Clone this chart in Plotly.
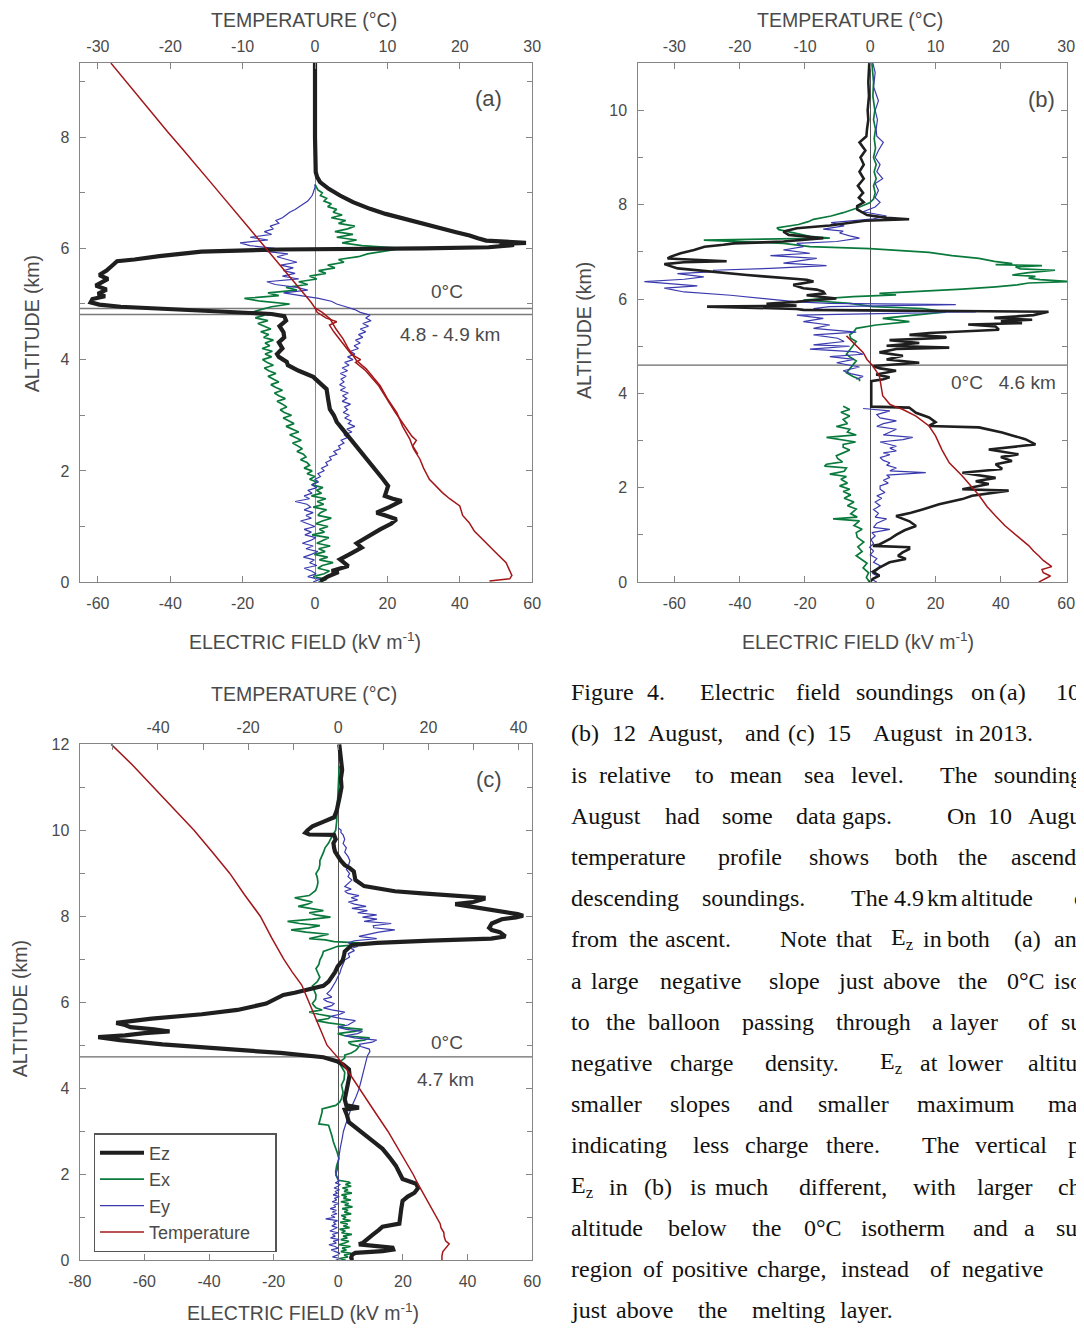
import plotly.graph_objects as go

# ---------------- DATA (altitude km, value) ----------------
# Panel (a) 10 August
a_ez = [(0.02, 1.4), (0.10, 3.5), (0.18, 6.5), (0.20, 4.6), (0.29, 9.2), (0.41, 6.9), (0.50, 9.5), (0.62, 12.9),
        (0.70, 11.5), (0.83, 14.7), (0.95, 18.0), (1.05, 21.0), (1.13, 22.5), (1.20, 19.5), (1.25, 17.0), (1.35, 20.5),
        (1.46, 23.9), (1.50, 21.5), (1.55, 19.3), (1.65, 19.8), (1.73, 20.2), (1.85, 18.8), (2.00, 17.0), (2.15, 15.2),
        (2.30, 13.2), (2.45, 11.5), (2.63, 9.1), (2.75, 7.6), (2.88, 6.0), (3.00, 5.2), (3.11, 4.1), (3.30, 3.6),
        (3.47, 3.2), (3.60, 1.0), (3.69, -0.5), (3.80, -4.5), (3.90, -7.5), (3.96, -7.8), (4.05, -10.0), (4.10, -10.5),
        (4.20, -9.0), (4.31, -10.0), (4.40, -8.5), (4.49, -8.7), (4.60, -9.8), (4.70, -8.0), (4.78, -8.5), (4.82, -12.0),
        (4.84, -18.0), (4.88, -27.5), (4.92, -42.0), (4.95, -53.7), (4.99, -59.6), (5.03, -62.0), (5.09, -61.5),
        (5.14, -58.0), (5.18, -60.0), (5.26, -57.6), (5.33, -60.6), (5.45, -57.2), (5.52, -59.6), (5.60, -57.6),
        (5.71, -55.7), (5.77, -54.7), (5.80, -49.9), (5.86, -43.0), (5.94, -31.4), (5.98, -10.0), (6.00, 30.0),
        (6.02, 48.0), (6.06, 55.0), (6.08, 51.0), (6.10, 58.3), (6.12, 52.0), (6.14, 47.3), (6.18, 45.0),
        (6.23, 42.7), (6.29, 39.0), (6.35, 35.3), (6.44, 30.0), (6.53, 25.0), (6.62, 19.5), (6.71, 15.2),
        (6.83, 10.5), (6.95, 6.9), (7.07, 3.8), (7.19, 1.4), (7.28, 0.6), (7.37, 0.2), (7.60, 0.05), (8.00, 0.0),
        (9.33, 0.0)]

# Ex / Ey of (a) read every 0.05 km from the ground upward
a_ex_vals = [1.0, 3.2, -0.5, 2.5, 4.0, 0.8, 2.0, 5.0, 1.2, 3.5,
             -0.2, 2.8, 1.0, 4.2, 0.5, 2.2, 3.8, -0.8, 2.6, 1.2,
             3.6, 0.2, 2.0, 4.5, 0.8, 1.5, 3.2, -0.5, 2.4, 0.6,
             3.0, -1.0, 1.8, 0.4, 2.2, -0.8, 0.5, -1.5, 0.0, -2.2,
             -0.8, -3.0, -1.5, -2.2, -4.0, -2.5, -3.2, -5.0, -3.5, -4.8,
             -6.2, -3.8, -5.5, -7.0, -4.5, -6.5, -8.0, -5.8, -7.2, -8.8,
             -6.5, -8.5, -9.6, -7.8, -9.0, -10.5, -8.2, -10.0, -11.2, -9.0,
             -10.8, -12.2, -10.0, -11.5, -13.0, -10.8, -12.8, -14.0, -11.5, -13.2,
             -14.5, -12.0, -13.8, -11.8, -14.6, -12.5, -13.8, -11.5, -14.2, -12.8,
             -15.0, -12.2, -14.0, -15.8, -13.0, -16.5, -14.0, -17.5, -15.0, -12.0,
             -7.0, -15.0, -19.5, -10.0, -13.0, -5.0, -8.0, -2.0, -4.5, 0.5,
             -1.5, 3.0, 1.0, 5.5, 3.5, 8.0, 6.5, 12.0, 14.5, 19.0,
             24.0, 13.0, 7.5, 11.5, 6.0, 10.5, 5.5, 9.0, 11.0, 6.5,
             8.5, 4.5, 7.5, 5.0, 6.0, 3.5, 4.5, 2.5, 3.2, 1.5,
             2.0, 0.8, 0.5, 0.0]
a_ey_vals = [-0.5, 1.2, -2.0, 0.3, -1.0, -3.0, 0.5, -1.5, -0.2, -3.2,
             -1.0, 0.8, -2.5, -0.5, -3.5, -1.2, 0.2, -2.8, -1.0, -3.0,
             0.0, -2.0, -4.0, -1.0, -2.5, -0.5, -3.0, -1.2, -2.2, -5.5,
             -1.5, -3.0, -0.8, -2.0, 0.5, -1.0, 1.0, 0.0, 1.5, 0.8,
             2.5, 1.8, 3.5, 3.0, 4.5, 4.0, 6.0, 5.2, 7.0, 6.5,
             8.0, 7.2, 9.0, 8.0, 10.2, 8.8, 11.0, 9.2, 10.0, 8.2,
             9.5, 7.8, 9.0, 8.2, 9.8, 7.5, 8.8, 7.6, 9.2, 7.0,
             8.4, 6.8, 8.0, 7.2, 8.6, 7.0, 9.0, 7.5, 9.4, 8.2,
             10.5, 9.0, 11.0, 9.8, 12.0, 10.8, 12.5, 11.2, 13.2, 12.0,
             14.0, 12.5, 14.8, 13.2, 15.5, 14.0, 15.2, 12.5, 11.0, 8.5,
             6.0, 4.5, 1.0, -4.0, -8.7, -2.0, -5.0, -11.0, -13.3, -4.5,
             -9.0, -5.5, -8.7, -6.0, -9.5, -5.0, -8.0, -10.5, -7.5, -14.3,
             -11.0, -18.0, -20.7, -13.0, -17.9, -12.0, -14.0, -11.5, -12.4, -10.0,
             -10.8, -9.0, -8.0, -7.0, -5.5, -4.2, -3.2, -2.0, -1.4, -0.8,
             -0.5, -0.2, 0.0, 0.0]
a_step = 0.05

a_temp_up = [(0.02, 24.1), (0.06, 26.9), (0.12, 27.2), (0.20, 26.9), (0.35, 26.4), (0.53, 25.0), (0.77, 23.1),
             (0.92, 22.0), (1.07, 21.3), (1.20, 20.4), (1.37, 20.0), (1.50, 18.6), (1.61, 17.6), (1.85, 15.8),
             (2.05, 15.0), (2.21, 14.5), (2.40, 13.6), (2.57, 13.1), (2.80, 12.1), (3.05, 11.3), (3.30, 10.0),
             (3.53, 9.0), (3.83, 7.1), (3.99, 5.7), (4.20, 4.6), (4.37, 3.9), (4.55, 2.9), (4.73, 2.1), (4.85, 1.0),
             (4.93, 0.0), (5.04, -0.6), (5.30, -2.3), (5.57, -4.0), (5.80, -5.5), (6.05, -7.1), (6.35, -9.0),
             (6.62, -10.8), (6.89, -12.5), (7.20, -14.5), (7.50, -16.4), (7.80, -18.4), (8.10, -20.4),
             (8.40, -22.3), (8.70, -24.2), (9.00, -26.1), (9.33, -28.2)]
a_temp_down = [(4.93, 0.0), (4.85, 0.3), (4.75, 1.5), (4.68, 3.0), (4.62, 2.0), (4.50, 2.6), (4.30, 3.8),
               (4.10, 5.0), (4.00, 6.3), (3.95, 5.6), (3.80, 7.0), (3.53, 8.8), (3.05, 11.1), (2.62, 13.4),
               (2.55, 14.0), (2.45, 13.5), (2.30, 14.2)]

# Panel (b) 12 August (None = data gap)
b_ez = [(0.00, -0.2), (0.07, 0.8), (0.14, 2.8), (0.22, 0.8), (0.31, 2.8), (0.42, 5.9), (0.49, 10.9), (0.56, 8.5),
        (0.63, 9.9), (0.70, 11.9), (0.74, 11.9), (0.77, 0.8), (0.80, 2.8), (0.91, 5.9), (1.00, 7.9), (1.10, 10.5),
        (1.19, 14.0), (1.29, 12.0), (1.40, 7.9), (1.47, 12.5), (1.54, 16.0), (1.60, 18.5), (1.65, 21.1), (1.76, 28.2),
        (1.83, 31.2), (1.94, 42.4), (1.97, 28.2), (2.08, 36.3), (2.14, 32.3), (2.21, 38.4), (2.32, 28.2), (2.40, 40.4),
        (2.50, 38.4), (2.57, 43.4), (2.65, 40.0), (2.71, 45.4), (2.81, 36.3), (2.92, 50.6), (3.03, 47.5), (3.10, 44.0),
        (3.17, 40.4), (3.28, 33.3), (3.31, 18.0), (3.39, 20.0), (3.49, 18.0), (3.59, 14.0), (3.70, 11.9), (3.72, 0.3),
        (4.09, 0.3), (4.26, 0.3), (4.30, 4.0), (4.34, 5.9), (4.40, 1.8), (4.48, 7.9), (4.53, 3.0), (4.58, 0.8),
        (4.65, 15.0), (4.72, 5.0), (4.80, 10.0), (4.87, 2.8), (4.94, 8.0), (4.97, 24.2), (5.01, 5.0), (5.07, 15.0),
        (5.13, 5.9), (5.18, 23.0), (5.20, 23.2), (5.24, 12.0), (5.28, 18.0), (5.32, 33.0), (5.35, 39.4), (5.42, 38.4),
        (5.46, 30.0), (5.49, 46.5), (5.53, 40.0), (5.56, 49.6), (5.60, 38.0), (5.66, 50.0), (5.73, 54.6),
        (5.77, -20.5), (5.79, -22.6), (5.84, -50.0), (5.86, -22.6), (5.88, -26.7), (5.90, -31.8), (5.94, -22.6),
        (5.97, -18.5), (6.01, -10.4), (6.08, -19.5), (6.12, -14.0), (6.16, -14.4), (6.20, -16.4), (6.23, -20.5),
        (6.30, -23.6), (6.37, -17.4), (6.41, -19.5), (6.44, -26.6), (6.48, -32.7), (6.51, -37.8), (6.56, -45.0),
        (6.60, -53.0), (6.65, -59.0), (6.74, -63.1), (6.78, -57.1), (6.80, -44.0), (6.83, -53.0), (6.86, -62.1),
        (6.90, -61.1), (6.97, -58.1), (7.04, -54.0), (7.11, -50.8), (7.15, -45.0), (7.18, -41.8), (7.20, -33.0),
        (7.22, -26.6), (7.29, -14.4), (7.33, -21.0), (7.36, -25.0), (7.43, -26.6), (7.50, -22.5), (7.56, -12.4),
        (7.62, -5.0), (7.66, -1.6), (7.69, 11.9), (7.72, 5.0), (7.78, -1.0), (7.85, -3.0), (7.90, -4.0),
        (7.97, -4.0), (8.05, -2.0), (8.15, -3.5), (8.25, -2.2), (8.40, -3.8), (8.55, -2.0), (8.70, -3.3),
        (8.85, -2.0), (9.00, -3.0), (9.15, -1.5), (9.32, -3.3), (9.45, -1.2), (9.60, -1.0), (9.80, -0.6),
        (10.0, -0.8), (10.3, -0.4), (10.6, -0.6), (11.0, -0.3)]

b_ex = [(0.00, -0.2), (0.10, -1.2), (0.20, -0.5), (0.30, -2.2), (0.40, -1.0), (0.50, -3.0), (0.56, -4.3),
        (0.65, -2.5), (0.75, -3.8), (0.85, -2.0), (0.95, -4.0), (1.05, -4.3), (1.12, -2.5), (1.20, -5.0),
        (1.30, -3.3), (1.34, -11.4), (1.38, -4.0), (1.45, -6.0), (1.55, -4.3), (1.62, -7.0), (1.70, -5.0),
        (1.78, -8.0), (1.85, -6.0), (1.92, -8.3), (1.97, -6.3), (2.04, -9.4), (2.10, -7.0), (2.18, -9.0),
        (2.24, -7.3), (2.29, -12.4), (2.35, -8.0), (2.42, -7.3), (2.46, -14.0), (2.50, -13.4), (2.55, -8.5),
        (2.62, -10.0), (2.68, -10.4), (2.74, -8.3), (2.80, -6.3), (2.86, -8.3), (2.92, -8.3), (2.97, -4.5),
        (3.02, -9.0), (3.07, -13.4), (3.12, -4.3), (3.18, -7.0), (3.24, -6.3), (3.30, -10.4), (3.36, -7.0),
        (3.45, -8.3), (3.52, -6.3), (3.60, -9.0), (3.66, -6.3), (3.73, -8.3), None,
        (4.26, -3.3), (4.30, -3.3), (4.36, -5.3), (4.44, -7.3), (4.52, -6.3), (4.60, -5.3), (4.69, -4.3),
        (4.76, -6.0), (4.83, -7.3), (4.92, -6.3), (5.01, -5.3), (5.10, -4.3), (5.17, -6.0), (5.24, -6.3),
        (5.31, -5.0), (5.38, -4.3), (5.45, 1.8), (5.52, 12.0), (5.59, 3.8), (5.66, 14.0), (5.73, 23.2),
        (5.80, 16.0), (5.84, 0.8), (5.91, -6.2), (5.98, -20.5), (6.05, -5.2), (6.09, 7.9), (6.12, 2.8),
        (6.16, 16.0), (6.21, 28.2), (6.26, 38.4), (6.30, 45.0), (6.34, 48.5), (6.37, 61.7), (6.41, 52.0),
        (6.44, 48.5), (6.48, 50.6), (6.51, 43.5), (6.56, 48.5), (6.61, 56.6), (6.64, 46.0), (6.68, 44.5),
        (6.71, 52.6), (6.73, 38.4), (6.75, 43.5), (6.80, 38.0), (6.86, 33.3), (6.92, 25.0), (6.99, 18.0),
        (7.04, 8.0), (7.07, -0.2), (7.11, -18.5), (7.18, -26.6), (7.25, -51.0), (7.29, -12.4), (7.33, -18.5),
        (7.41, -24.6), (7.47, -28.0), (7.51, -28.6), (7.58, -22.0), (7.64, -19.0), (7.69, -17.4), (7.76, -12.0),
        (7.83, -8.3), (7.93, -4.0), (8.04, -0.2), (8.12, 1.0), (8.25, 1.5), (8.40, 1.0), (8.55, 1.8), (8.70, 1.2),
        (8.85, 1.8), (9.00, 1.0), (9.20, 1.6), (9.40, 1.2), (9.60, 1.6), (9.80, 1.0), (10.0, 1.4), (10.3, 0.8),
        (10.6, 1.0), (11.0, 0.5)]

b_ey = [(0.00, 2.0), (0.06, 0.5), (0.12, 2.5), (0.18, 0.8), (0.25, 2.0), (0.35, 3.0), (0.42, 1.0), (0.50, 2.0),
        (0.58, 0.0), (0.66, 1.0), (0.74, -0.2), (0.82, 1.0), (0.90, 0.2), (0.98, 1.5), (1.05, 0.5), (1.12, 6.0),
        (1.16, 1.0), (1.25, 2.0), (1.34, 5.0), (1.38, 1.5), (1.46, 2.5), (1.54, 1.0), (1.62, 3.0), (1.70, 1.5),
        (1.78, 3.5), (1.83, 2.0), (1.90, 4.5), (1.97, 3.0), (2.04, 3.0), (2.10, 5.5), (2.16, 4.0), (2.22, 6.0),
        (2.27, 5.0), (2.32, 17.0), (2.36, 6.0), (2.42, 8.0), (2.48, 5.0), (2.53, 6.0), (2.58, 4.0), (2.64, 3.0),
        (2.70, 6.0), (2.74, 4.0), (2.78, 8.0), (2.84, 6.0), (2.88, 8.0), (2.92, 6.0), (2.97, 3.0), (3.02, 10.0),
        (3.07, 13.0), (3.12, 4.0), (3.18, 6.0), (3.24, 8.0), (3.30, 2.0), (3.36, 4.0), (3.42, 8.0), (3.48, 3.0),
        (3.55, 2.0), (3.63, 6.0), (3.68, -2.2), None,
        (4.30, -4.3), (4.36, -2.2), (4.42, -6.0), (4.48, -8.3), (4.56, -3.3), (4.65, -10.3), (4.72, -5.0),
        (4.78, -12.4), (4.83, -2.2), (4.88, -4.3), (4.94, -18.5), (5.00, -6.3), (5.03, -17.4), (5.10, -8.0),
        (5.17, -10.0), (5.24, -17.4), (5.30, -4.3), (5.38, -17.4), (5.45, -12.4), (5.52, -20.5), (5.59, -14.4),
        (5.66, -22.5), (5.73, 32.3), (5.76, -12.0), (5.80, -17.4), (5.84, -12.4), (5.88, 26.2), (5.91, -12.4),
        (5.94, -22.5), (6.01, -32.7), (6.08, -42.8), (6.15, -57.0), (6.23, -63.1), (6.28, -53.0), (6.32, -61.0),
        (6.37, -69.2), (6.42, -57.0), (6.47, -51.0), (6.54, -59.1), (6.58, -48.0), (6.61, -48.0), (6.65, -30.6),
        (6.71, -13.4), (6.76, -26.6), (6.86, -16.4), (6.92, -30.6), (6.97, -18.5), (7.04, -26.6), (7.11, -20.5),
        (7.18, -22.5), (7.22, -10.3), (7.29, -3.3), (7.34, -6.3), (7.40, -9.4), (7.44, -8.3), (7.48, -14.4),
        (7.55, -8.0), (7.62, -12.0), (7.70, 1.0), (7.76, 5.0), (7.85, -2.2), (7.95, 1.5), (8.05, 3.0), (8.15, 1.5),
        (8.30, 2.5), (8.45, 1.5), (8.55, 3.8), (8.70, 2.0), (8.85, 3.0), (9.00, 1.5), (9.15, 2.5), (9.32, 4.0),
        (9.45, 2.0), (9.60, 1.8), (9.80, 2.2), (10.0, 1.5), (10.2, 2.5), (10.5, 1.0), (10.8, 1.5), (11.0, 0.8)]

b_temp = [(0.00, 25.8), (0.07, 26.8), (0.13, 27.6), (0.20, 26.5), (0.27, 26.3), (0.33, 27.8), (0.38, 27.3),
          (0.46, 26.5), (0.56, 25.8), (0.66, 25.0), (0.77, 24.3), (0.90, 23.2), (1.05, 21.8), (1.20, 20.6),
          (1.40, 19.2), (1.60, 17.9), (1.83, 16.7), (2.05, 15.3), (2.25, 14.1), (2.53, 12.1), (2.80, 11.0),
          (3.10, 10.0), (3.31, 9.0), (3.52, 7.0), (3.66, 5.0), (3.72, 3.8), (3.77, 3.0), (3.95, 1.9), (4.15, 1.7),
          (4.37, 1.4), (4.58, 0.4), (4.72, -0.5), (4.87, -1.1), (5.05, -2.4), (5.22, -3.65)]

# Panel (c) 15 August
c_ez = [(0.00, 4.3), (0.06, 4.0), (0.13, 4.3), (0.17, 5.3), (0.21, 13.7), (0.25, 17.0), (0.29, 16.8), (0.33, 11.6),
        (0.37, 6.4), (0.40, 7.5), (0.50, 9.0), (0.59, 10.6), (0.70, 12.5), (0.78, 13.7), (0.85, 18.9), (1.00, 19.3),
        (1.20, 19.5), (1.38, 19.9), (1.48, 21.5), (1.57, 23.6), (1.68, 24.7), (1.78, 24.1), (1.84, 21.5),
        (1.89, 19.9), (2.05, 18.8), (2.20, 17.8), (2.40, 15.8), (2.59, 13.7), (2.75, 11.0), (2.90, 8.5), (3.05, 6.0),
        (3.21, 3.3), (3.37, 2.7), (3.50, 2.0), (3.55, 6.4), (3.60, 2.5), (3.74, 2.0), (3.95, 2.6), (4.13, 3.0),
        (4.30, 3.5), (4.44, 3.3), (4.55, 1.5), (4.62, -0.2), (4.72, -4.6), (4.82, -17.9), (4.92, -37.8),
        (5.02, -54.4), (5.12, -67.6), (5.19, -74.3), (5.23, -66.0), (5.28, -60.0), (5.32, -52.2), (5.37, -57.0),
        (5.42, -64.3), (5.47, -66.0), (5.52, -68.7), (5.57, -63.0), (5.62, -57.7), (5.72, -42.2), (5.82, -31.2),
        (5.97, -22.3), (6.07, -19.5), (6.12, -17.9), (6.17, -17.0), (6.22, -13.5), (6.28, -10.2), (6.33, -7.0),
        (6.38, -4.6), (6.48, -3.0), (6.58, -1.9), (6.70, -1.0), (6.83, -0.2), (6.98, 1.4), (7.10, 1.8), (7.18, 2.0),
        (7.33, 4.2), (7.38, 12.0), (7.43, 28.5), (7.48, 47.3), (7.53, 51.7), (7.58, 51.0), (7.63, 50.0),
        (7.68, 47.5), (7.73, 46.7), (7.83, 47.5), (7.88, 49.0), (7.93, 50.6), (7.97, 55.0), (8.01, 57.2),
        (8.05, 55.5), (8.08, 52.8), (8.13, 48.0), (8.18, 44.0), (8.23, 40.0), (8.28, 36.2), (8.33, 41.8),
        (8.40, 45.0), (8.43, 45.0), (8.48, 34.0), (8.53, 26.0), (8.58, 17.5), (8.70, 8.0), (8.84, 5.3), (8.95, 5.0),
        (9.04, 4.8), (9.12, 3.5), (9.19, 2.0), (9.29, 0.8), (9.39, -0.2), (9.50, -1.0), (9.59, -1.3), (9.70, -1.5),
        (9.79, -0.8), (9.89, -1.3), (9.90, -9.0), (9.94, -10.2), (10.00, -9.5), (10.09, -8.0), (10.20, -4.5),
        (10.30, -1.3), (10.45, -0.5), (10.60, -0.2), (10.80, 0.5), (11.00, 1.0), (11.20, 0.8), (11.40, 1.2),
        (11.60, 0.8), (11.80, 0.5), (12.00, 0.3)]

c_ex = [(0.00, 2.3), (0.04, 0.5), (0.08, 3.0), (0.12, 1.8), (0.16, 4.0), (0.20, 0.8), (0.24, 2.5), (0.28, 1.2),
        (0.32, 3.8), (0.36, 0.2), (0.40, 2.0), (0.44, 3.3), (0.48, 0.8), (0.52, 2.8), (0.56, 1.5), (0.60, 4.2),
        (0.64, 1.0), (0.68, 2.2), (0.72, 0.4), (0.76, 3.5), (0.80, 1.6), (0.84, 2.9), (0.88, 0.6), (0.92, 3.8),
        (0.96, 1.4), (1.00, 2.4), (1.04, 0.9), (1.08, 4.0), (1.12, 1.9), (1.16, 3.0), (1.20, 1.2), (1.24, 4.4),
        (1.28, 2.0), (1.32, 3.2), (1.36, 0.8), (1.40, 3.9), (1.44, 1.6), (1.48, 2.6), (1.52, 1.0), (1.56, 4.2),
        (1.60, 1.8), (1.64, 3.0), (1.68, 1.3), (1.72, 4.0), (1.76, 2.2), (1.80, 3.6), (1.82, 3.3),
        (1.86, 0.0), (1.95, -0.5), (2.05, -0.8), (2.20, -0.5), (2.36, 0.2), (2.50, -0.3), (2.59, -0.8),
        (2.75, -1.5), (2.90, -2.0), (3.02, -2.5), (3.14, -3.0), (3.17, -6.0), (3.30, -5.5), (3.45, -5.0),
        (3.52, -5.0), (3.56, -2.5), (3.60, -0.8), (3.68, 0.5), (3.76, 1.0), (3.90, 1.5), (4.07, 1.0), (4.20, 1.8),
        (4.37, 2.0), (4.50, 1.0), (4.60, 0.2), (4.70, 2.0), (4.77, 2.0), (4.82, 4.0), (4.88, 5.4), (4.93, 6.0),
        (4.97, 6.4), (5.02, 4.0), (5.07, 3.1), (5.12, 8.0), (5.17, 9.7), (5.22, 2.0), (5.27, -0.2), (5.32, 5.0),
        (5.37, 7.5), (5.42, 0.0), (5.47, 2.0), (5.52, -3.0), (5.57, -6.9), (5.62, -3.0), (5.67, -2.4), (5.72, -6.0),
        (5.77, -9.0), (5.82, -5.0), (5.87, -6.9), (5.92, -7.5), (5.97, -8.0), (6.07, -7.0), (6.17, -6.9),
        (6.28, -7.5), (6.38, -8.0), (6.48, -6.5), (6.58, -5.7), (6.68, -6.3), (6.78, -6.9), (6.88, -6.0),
        (6.98, -5.7), (7.08, -5.0), (7.18, -4.6), (7.25, -2.0), (7.30, -0.2), (7.34, 6.4), (7.38, 6.4),
        (7.41, -1.3), (7.45, -4.0), (7.48, -9.0), (7.53, -6.0), (7.58, -3.0), (7.63, -10.0), (7.68, -14.6),
        (7.73, -9.0), (7.78, -5.7), (7.83, -12.0), (7.88, -15.7), (7.93, -8.0), (7.98, -2.4), (8.03, -7.0),
        (8.08, -9.0), (8.13, -4.6), (8.18, -8.0), (8.23, -12.4), (8.28, -9.5), (8.33, -8.0), (8.38, -11.0),
        (8.43, -13.5), (8.48, -9.0), (8.53, -8.0), (8.60, -7.0), (8.70, -6.5), (8.79, -6.3), (8.90, -6.5),
        (8.99, -6.9), (9.10, -6.0), (9.20, -5.7), (9.29, -5.7), (9.40, -5.0), (9.50, -4.5), (9.59, -4.1),
        (9.70, -3.0), (9.79, -2.4), (9.90, -1.5), (10.00, -0.8), (10.20, -0.5), (10.50, -0.3), (10.80, -0.2),
        (11.20, 0.0), (11.50, 0.3)]

c_ey = [(0.00, -0.8), (0.04, 0.6), (0.08, -1.8), (0.12, -0.2), (0.16, 0.5), (0.20, -1.2), (0.24, -2.2),
        (0.28, 0.0), (0.32, -1.0), (0.36, -2.9), (0.40, -0.6), (0.44, -1.6), (0.48, 0.3), (0.52, -2.4),
        (0.56, -0.9), (0.60, -1.8), (0.64, 0.0), (0.68, -2.6), (0.72, -1.2), (0.76, -0.3), (0.80, -2.0),
        (0.84, -0.8), (0.88, -1.5), (0.92, -0.2), (0.96, -3.9), (1.00, -1.0), (1.04, -2.2), (1.08, -0.4),
        (1.12, -1.8), (1.16, -0.6), (1.20, -2.5), (1.24, -0.8), (1.28, -1.4), (1.32, 0.2), (1.36, -1.9),
        (1.40, -0.5), (1.44, -1.2), (1.48, 0.3), (1.52, -1.6), (1.56, -0.2), (1.60, -1.0), (1.64, 0.4),
        (1.68, -1.3), (1.72, -0.1), (1.76, 0.5), (1.80, -0.9), (1.84, 0.2), (1.90, 0.0), (1.98, -0.8),
        (2.10, -0.3), (2.25, -0.1), (2.44, 0.2), (2.60, 0.6), (2.83, 1.2), (3.00, 1.6), (3.14, 2.2), (3.35, 3.2),
        (3.60, 4.3), (3.80, 5.5), (3.98, 6.4), (4.15, 7.0), (4.29, 7.5), (4.45, 8.0), (4.60, 8.5), (4.75, 9.0),
        (4.85, 9.8), (4.91, 9.6), (4.97, 7.0), (5.02, 6.4), (5.07, 10.5), (5.12, 11.9), (5.17, 5.0), (5.22, 2.0),
        (5.27, 6.0), (5.32, 7.5), (5.37, 2.5), (5.42, -0.2), (5.47, 3.0), (5.52, 4.0), (5.57, 5.3), (5.62, 1.0),
        (5.67, -2.4), (5.72, 0.5), (5.77, 2.0), (5.82, -2.0), (5.87, -4.6), (5.92, -2.0), (5.97, -1.3),
        (6.02, -3.5), (6.07, -4.6), (6.12, -2.0), (6.20, -3.5), (6.28, -2.4), (6.38, -1.5), (6.48, -0.8),
        (6.58, -0.2), (6.68, 0.5), (6.78, 0.9), (6.88, 1.5), (6.98, 2.0), (7.05, 3.5), (7.13, 3.1), (7.20, 5.0),
        (7.25, 4.0), (7.30, 6.0), (7.34, 4.5), (7.38, 3.1), (7.43, 5.0), (7.48, 11.9), (7.53, 6.4), (7.58, 9.0),
        (7.63, 12.5), (7.68, 17.5), (7.73, 11.0), (7.78, 10.8), (7.83, 16.4), (7.88, 8.0), (7.93, 12.0),
        (7.98, 7.5), (8.03, 11.9), (8.08, 6.0), (8.13, 9.0), (8.18, 4.2), (8.23, 8.6), (8.28, 5.0), (8.33, 3.1),
        (8.38, 6.0), (8.43, 4.0), (8.48, 6.4), (8.53, 3.0), (8.58, 2.0), (8.63, 4.0), (8.69, 2.0), (8.78, 3.5),
        (8.84, 4.2), (8.92, 3.0), (8.99, 3.5), (9.09, 2.5), (9.19, 3.2), (9.29, 3.6), (9.39, 3.0), (9.49, 2.0),
        (9.59, 2.5), (9.69, 1.5), (9.79, 2.0), (9.89, 1.5), (9.95, 0.8), (10.00, 0.9), (10.05, 0.0)]

c_temp = [(0.00, 23.0), (0.10, 23.0), (0.20, 23.2), (0.30, 24.0), (0.38, 24.6), (0.45, 23.8), (0.55, 23.5),
          (0.65, 23.4), (0.75, 22.8), (0.85, 22.6), (1.00, 21.8), (1.20, 20.6), (1.50, 19.0), (1.75, 17.8),
          (2.00, 16.6), (2.50, 13.8), (3.00, 11.0), (3.50, 7.8), (4.00, 4.6), (4.30, 2.8), (4.50, 1.5), (4.70, 0.0),
          (5.00, -2.5), (5.50, -4.5), (6.00, -6.5), (6.40, -8.1), (6.70, -10.2), (7.00, -12.1), (7.50, -14.8),
          (8.00, -17.3), (8.50, -20.8), (9.00, -24.1), (9.50, -28.0), (10.00, -32.0), (10.50, -36.5),
          (11.00, -41.0), (11.50, -45.5), (12.00, -50.4)]

# 0 degC isotherm altitudes (km)
iso_a = [4.81, 4.92]
iso_b = [4.6]
iso_c = [4.73]

# Tick values
e_ticks_ab = [-60, -40, -20, 0, 20, 40, 60]
t_ticks_ab = [-30, -20, -10, 0, 10, 20, 30]
e_ticks_c = [-80, -60, -40, -20, 0, 20, 40, 60]
t_ticks_c = [-40, -20, 0, 20, 40]

caption_lines = [
    ["Figure", "4.", "Electric", "field", "soundings", "on", "(a)", "10"],
    ["(b)", "12", "August,", "and", "(c)", "15", "August", "in", "2013."],
    ["is", "relative", "to", "mean", "sea", "level.", "The", "sounding"],
    ["August", "had", "some", "data", "gaps.", "On", "10", "August"],
    ["temperature", "profile", "shows", "both", "the", "ascending"],
    ["descending", "soundings.", "The", "4.9", "km", "altitude", "of"],
    ["from", "the", "ascent.", "Note", "that", "E<sub>z</sub>", "in", "both", "(a)", "and"],
    ["a", "large", "negative", "slope", "just", "above", "the", "0°C", "isotherm"],
    ["to", "the", "balloon", "passing", "through", "a", "layer", "of", "such"],
    ["negative", "charge", "density.", "E<sub>z</sub>", "at", "lower", "altitudes"],
    ["smaller", "slopes", "and", "smaller", "maximum", "magnitudes"],
    ["indicating", "less", "charge", "there.", "The", "vertical", "profile"],
    ["E<sub>z</sub>", "in", "(b)", "is", "much", "different,", "with", "larger", "charge"],
    ["altitude", "below", "the", "0°C", "isotherm", "and", "a", "such"],
    ["region", "of", "positive", "charge,", "instead", "of", "negative"],
    ["just", "above", "the", "melting", "layer."],
]

# ---------------- layout geometry (reference picture pixels) ----------------
cap_x = [
    [572, 648, 702, 798, 859, 974, 1003, 1060],
    [572, 613, 650, 747, 790, 830, 876, 958, 982],
    [572, 600, 697, 732, 806, 854, 943, 998],
    [572, 667, 724, 798, 845, 950, 991, 1032],
    [572, 720, 811, 898, 961, 1015],
    [572, 704, 854, 897, 930, 964, 1078],
    [572, 630, 667, 782, 839, 894, 926, 950, 1018, 1058],
    [572, 592, 662, 771, 841, 886, 961, 1011, 1058],
    [572, 607, 650, 744, 839, 935, 953, 1032, 1065],
    [572, 672, 767, 883, 923, 951, 1032],
    [572, 672, 760, 820, 920, 1052],
    [572, 695, 747, 829, 925, 978, 1072],
    [572, 610, 645, 692, 717, 801, 916, 980, 1062],
    [572, 670, 754, 806, 864, 976, 1028, 1060],
    [572, 644, 674, 759, 844, 933, 965],
    [572, 617, 700, 754, 843],
]
cap_y0, cap_dy = 693, 41.2

# page has an 8px body margin: the figure is 1068x1319 placed at (8, 8)
OFF = 8
W, H = 1084 - 2 * OFF, 1335 - 2 * OFF
# calibration between reference-picture pixels and page pixels
SX, BX, SY, BY = 0.986, 11.0, 0.987, 9.0


def fx(px):
    return ((px - BX) / SX - OFF) / W


def fy(py):
    return 1 - ((py - BY) / SY - OFF) / H


def split(pairs):
    xs, ys = [], []
    for p in pairs:
        if p is None:
            xs.append(None)
            ys.append(None)
        else:
            ys.append(p[0])
            xs.append(p[1])
    return xs, ys


def regular(vals, step):
    return [(round(i * step, 3), v) for i, v in enumerate(vals)]


a_ex = regular(a_ex_vals, a_step)
a_ey = regular(a_ey_vals, a_step)

C_EZ, C_EX, C_EY, C_T = '#1f1f1f', '#0a7a3c', '#3a3aae', '#a3171a'
AX = '#858585'
TXT = '#4a4a4a'
FONT = 'Liberation Sans, Arial, sans-serif'
PAD = '\u00a0' * 4  # trailing room so the legend box is as wide as the original

fig = go.Figure()


def add_panel(ez, ex, ey, temps, xa, xt, ya, legend, ezw):
    x, y = split(ex)
    fig.add_trace(go.Scatter(x=x, y=y, mode='lines', name='Ex', line=dict(color=C_EX, width=1.7),
                             xaxis=xa, yaxis=ya, showlegend=False, legendrank=2))
    x, y = split(ey)
    fig.add_trace(go.Scatter(x=x, y=y, mode='lines', name='Ey', line=dict(color=C_EY, width=1.2),
                             xaxis=xa, yaxis=ya, showlegend=False, legendrank=3))
    x, y = split(ez)
    fig.add_trace(go.Scatter(x=x, y=y, mode='lines', name='Ez', line=dict(color=C_EZ, width=ezw),
                             xaxis=xa, yaxis=ya, showlegend=legend, legendrank=1))
    for i, tp in enumerate(temps):
        x, y = split(tp)
        fig.add_trace(go.Scatter(x=x, y=y, mode='lines', name='Temperature' + PAD, line=dict(color=C_T, width=1.5),
                                 xaxis=xt, yaxis=ya, showlegend=(legend and i == 0), legendrank=4))


add_panel(a_ez, a_ex, a_ey, [a_temp_up, a_temp_down], 'x', 'x2', 'y', True, 4.2)
add_panel(b_ez, b_ex, b_ey, [b_temp], 'x3', 'x4', 'y2', False, 2.6)
add_panel(c_ez, c_ex, c_ey, [c_temp], 'x5', 'x6', 'y3', False, 4.2)

fig.add_trace(go.Scatter(x=[None], y=[None], mode='lines', name='Ex', line=dict(color=C_EX, width=1.7),
                         xaxis='x5', yaxis='y3', legendrank=2))
fig.add_trace(go.Scatter(x=[None], y=[None], mode='lines', name='Ey', line=dict(color=C_EY, width=1.2),
                         xaxis='x5', yaxis='y3', legendrank=3))

tickfont = dict(family=FONT, size=16, color=TXT)
base = dict(showline=True, linecolor=AX, linewidth=1.4, ticks='inside', ticklen=6, tickcolor=AX, tickwidth=1.2,
            showgrid=False, tickfont=tickfont)


def labels(tv):
    return [str(v) for v in tv]


def xbottom(dom, rng, tv, zc):
    return dict(base, domain=dom, range=rng, tickvals=tv, ticktext=labels(tv), zeroline=True, zerolinecolor=zc,
                zerolinewidth=1.2, ticklabelstandoff=6)


def xtop(over, anchor, rng, tv, minor=None):
    d = dict(base, overlaying=over, anchor=anchor, side='top', range=rng, tickvals=tv, ticktext=labels(tv),
             zeroline=False, ticklabelstandoff=4)
    if minor:
        d['minor'] = dict(dtick=minor, ticks='inside', ticklen=6, tickcolor=AX)
    return d


def yax(dom, rng, tv, anchor):
    return dict(base, domain=dom, range=rng, tickvals=tv, ticktext=labels(tv), anchor=anchor, mirror='ticks',
                zeroline=False, minor=dict(dtick=1, ticks='inside', ticklen=5, tickcolor=AX), ticklabelstandoff=6)


dom_ax = [fx(79), fx(534)]
dom_bx = [fx(640), 1.0]
dom_aby = [fy(583), fy(64)]
dom_cy = [fy(1261), fy(745)]
b_right_px = SX * (OFF + W) + BX            # picture pixel of the figure's right edge
b_right = -71.3 + (b_right_px - 640) / 3.283  # field value there in (b)
rc = 1.395  # px ratio between temperature and field scales in (c)

fig.update_layout(
    xaxis=xbottom(dom_ax, [-65, 60], e_ticks_ab, '#8a8a8a'),
    xaxis2=xtop('x', 'y', [-32.5, 30], t_ticks_ab),
    yaxis=yax(dom_aby, [0, 9.33], [0, 2, 4, 6, 8], 'x'),
    xaxis3=dict(xbottom(dom_bx, [-71.3, b_right], e_ticks_ab, '#555555'), anchor='y2'),
    xaxis4=xtop('x3', 'y2', [-71.3 / 2, b_right / 2], t_ticks_ab),
    yaxis2=yax(dom_aby, [0, 11.0], [0, 2, 4, 6, 8, 10], 'x3'),
    xaxis5=dict(xbottom(dom_ax, [-80, 60], e_ticks_c, '#555555'), anchor='y3'),
    xaxis6=xtop('x5', 'y3', [-80 / rc, 60 / rc], t_ticks_c, minor=10),
    yaxis3=yax(dom_cy, [0, 12], [0, 2, 4, 6, 8, 10, 12], 'x5'),
)

shapes = []
for v in iso_a:
    shapes.append(dict(type='line', xref='x domain', x0=0, x1=1, yref='y', y0=v, y1=v,
                       line=dict(color='#7a7a7a', width=1.4), layer='below'))
for v in iso_b:
    shapes.append(dict(type='line', xref='x3 domain', x0=0, x1=1, yref='y2', y0=v, y1=v,
                       line=dict(color='#6a6a6a', width=1.2), layer='below'))
for v in iso_c:
    shapes.append(dict(type='line', xref='x5 domain', x0=0, x1=1, yref='y3', y0=v, y1=v,
                       line=dict(color='#6a6a6a', width=1.3), layer='below'))

ann = []


def note(text, px, py, size, color=TXT, angle=0, xanchor='center', family=FONT):
    ann.append(dict(text=text, x=fx(px), y=fy(py), xref='paper', yref='paper', showarrow=False,
                    xanchor=xanchor, yanchor='middle', textangle=angle,
                    font=dict(family=family, size=size, color=color)))


T_TITLE = 'TEMPERATURE (°C)'
E_TITLE = 'ELECTRIC FIELD (kV m<sup>-1</sup>)'
A_TITLE = 'ALTITUDE (km)'
TS = 19.5
note(T_TITLE, 305, 21, TS)
note(E_TITLE, 306, 642, TS)
note(A_TITLE, 31, 325, TS, angle=-90)
note(T_TITLE, 854, 21, TS)
note(E_TITLE, 862, 642, TS)
note(A_TITLE, 586, 331, TS, angle=-90)
note(T_TITLE, 305, 695, TS)
note(E_TITLE, 304, 1313, TS)
note(A_TITLE, 19, 1010, TS, angle=-90)

note('(a)', 490, 99, 22)
note('0°C', 448, 292, 19)
note('4.8 - 4.9 km', 451, 335, 19)
note('(b)', 1046, 100, 22)
note('0°C\u00a0\u00a0\u00a04.6 km', 1008, 383, 19)
note('(c)', 491, 780, 22)
note('0°C', 448, 1043, 19)
note('4.7 km', 447, 1080, 19)

for i, words in enumerate(caption_lines):
    py = cap_y0 + i * cap_dy
    for w, px in zip(words, cap_x[i]):
        note(w, px - 1, py, 24, color='#111111', xanchor='left', family='Liberation Serif, Times New Roman, serif')

fig.update_layout(
    width=W, height=H, margin=dict(l=0, r=0, t=0, b=0),
    paper_bgcolor='white', plot_bgcolor='rgba(0,0,0,0)',
    shapes=shapes, annotations=ann,
    showlegend=True,
    legend=dict(x=fx(93), y=fy(1134), xanchor='left', yanchor='top', bgcolor='white',
                bordercolor='#555555', borderwidth=1.3, font=dict(family=FONT, size=18, color=TXT),
                tracegroupgap=0, itemwidth=44, traceorder='normal'),
)

fig.write_html('out.html')
